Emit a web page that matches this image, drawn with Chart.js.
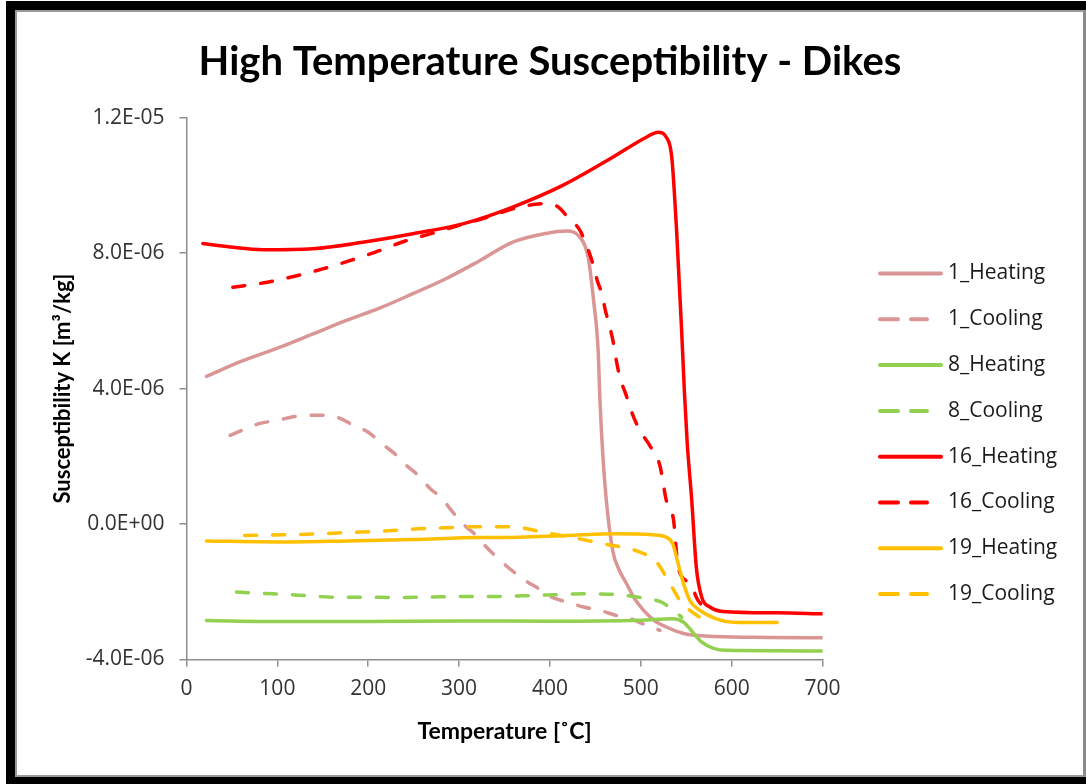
<!DOCTYPE html>
<html>
<head>
<meta charset="utf-8">
<script src="https://cdn.jsdelivr.net/npm/chart.js@4/dist/chart.umd.min.js"></script>
<style>
  html, body { margin: 0; padding: 0; background: #fff; }
  #wrap { position: relative; width: 1086px; height: 784px; overflow: hidden; }
  #susChart { position: absolute; left: 0; top: 0; }
  #frame {
    position: absolute; left: 6px; top: 1px; width: 1080px; height: 783px;
    box-sizing: border-box; pointer-events: none;
    border-left: 9px solid #000; border-top: 9px solid #000; border-bottom: 7px solid #000;
  }
  #frame::after {
    content: ""; position: absolute; left: 0; top: 0; right: 0; bottom: 0;
    border-left: 2px solid #9a9a9a; border-top: 2px solid #9a9a9a;
    border-bottom: 2px solid #9a9a9a; border-right: 3px solid #8a8a8a;
  }
</style>
</head>
<body>
<div id="wrap">
  <canvas id="susChart" width="1086" height="784"></canvas>
  <div id="frame"></div>
</div>
<script>
// temperatures in °C, susceptibility in m3/kg
const heat1T = [22, 60, 103, 140, 176, 213, 249, 286, 323, 359, 396, 418, 433, 442, 448, 453, 455, 458, 462, 469, 476, 484, 493, 503, 515, 528, 547, 583, 640, 700];
const heat1K = [4.36e-6, 4.80e-6, 5.22e-6, 5.62e-6, 6.01e-6, 6.38e-6, 6.80e-6, 7.25e-6, 7.78e-6, 8.32e-6, 8.58e-6, 8.65e-6, 8.47e-6, 7.88e-6, 6.60e-6, 5.12e-6, 3.65e-6, 2.10e-6, 0.70e-6, -0.78e-6, -1.35e-6, -1.75e-6, -2.20e-6, -2.55e-6, -2.85e-6, -3.04e-6, -3.23e-6, -3.32e-6, -3.35e-6, -3.36e-6];

const cool1T = [48, 81, 100, 116, 133, 150, 169, 183, 200, 215, 229, 242, 255, 268, 281, 293, 306, 321, 330, 345, 358, 373, 387, 402, 420, 437, 455, 473, 488, 506, 521];
const cool1K = [2.62e-6, 2.97e-6, 3.06e-6, 3.16e-6, 3.21e-6, 3.21e-6, 3.12e-6, 2.92e-6, 2.71e-6, 2.37e-6, 2.08e-6, 1.73e-6, 1.44e-6, 1.05e-6, 0.76e-6, 0.35e-6, -0.04e-6, -0.39e-6, -0.68e-6, -1.07e-6, -1.37e-6, -1.67e-6, -1.90e-6, -2.16e-6, -2.31e-6, -2.45e-6, -2.55e-6, -2.70e-6, -2.79e-6, -2.99e-6, -3.14e-6];

const heat8T = [22, 100, 200, 300, 400, 500, 535, 547, 557, 567, 580, 594, 650, 700];
const heat8K = [-2.85e-6, -2.88e-6, -2.88e-6, -2.86e-6, -2.87e-6, -2.84e-6, -2.80e-6, -2.90e-6, -3.19e-6, -3.49e-6, -3.67e-6, -3.73e-6, -3.74e-6, -3.75e-6];

const cool8T = [55, 95, 129, 163, 196, 232, 266, 300, 334, 369, 404, 438, 471, 504, 522, 536, 545];
const cool8K = [-2.01e-6, -2.06e-6, -2.11e-6, -2.16e-6, -2.16e-6, -2.17e-6, -2.16e-6, -2.14e-6, -2.14e-6, -2.12e-6, -2.09e-6, -2.06e-6, -2.08e-6, -2.19e-6, -2.30e-6, -2.55e-6, -2.75e-6];

const heat16T = [18, 48, 84, 139, 194, 249, 305, 359, 414, 469, 506, 519, 528, 534, 539.5, 545, 548, 551, 556, 561, 567, 576, 590, 650, 700];
const heat16K = [8.28e-6, 8.18e-6, 8.10e-6, 8.13e-6, 8.32e-6, 8.57e-6, 8.87e-6, 9.36e-6, 10.00e-6, 10.83e-6, 11.42e-6, 11.57e-6, 11.42e-6, 10.83e-6, 8.58e-6, 5.63e-6, 3.86e-6, 2.40e-6, 0.70e-6, -1.27e-6, -2.16e-6, -2.45e-6, -2.58e-6, -2.62e-6, -2.65e-6];

const cool16T = [51, 89, 118, 148, 178, 208, 240, 270, 300, 330, 367, 394, 408, 420, 433, 441, 447, 452, 457, 461, 466, 470, 473, 477, 484, 490, 499, 510, 521, 528, 536, 541, 554, 563, 570, 575];
const cool16K = [6.99e-6, 7.14e-6, 7.31e-6, 7.52e-6, 7.76e-6, 8.03e-6, 8.35e-6, 8.58e-6, 8.82e-6, 9.05e-6, 9.36e-6, 9.46e-6, 9.38e-6, 9.05e-6, 8.67e-6, 8.17e-6, 7.70e-6, 7.19e-6, 6.80e-6, 6.30e-6, 5.80e-6, 5.32e-6, 4.83e-6, 4.33e-6, 3.79e-6, 3.30e-6, 2.76e-6, 2.31e-6, 1.72e-6, 0.70e-6, 0.11e-6, -1.28e-6, -1.75e-6, -2.26e-6, -2.45e-6, -2.50e-6];

const heat19T = [22, 103, 176, 249, 323, 345, 418, 473, 513, 528, 535, 541, 547, 554, 565, 583, 602, 650];
const heat19K = [-0.50e-6, -0.53e-6, -0.50e-6, -0.46e-6, -0.40e-6, -0.40e-6, -0.34e-6, -0.29e-6, -0.32e-6, -0.39e-6, -0.58e-6, -1.17e-6, -1.76e-6, -2.26e-6, -2.55e-6, -2.80e-6, -2.90e-6, -2.91e-6];

const cool19T = [64, 108, 144, 179, 214, 250, 285, 318, 345, 365, 392, 427, 462, 496, 517, 528, 535, 545, 554, 565, 580];
const cool19K = [-0.34e-6, -0.32e-6, -0.29e-6, -0.25e-6, -0.21e-6, -0.15e-6, -0.11e-6, -0.08e-6, -0.08e-6, -0.10e-6, -0.24e-6, -0.41e-6, -0.60e-6, -0.80e-6, -1.12e-6, -1.57e-6, -1.90e-6, -2.34e-6, -2.55e-6, -2.75e-6, -2.85e-6];

const seriesNames = ["1_Heating", "1_Cooling", "8_Heating", "8_Cooling", "16_Heating", "16_Cooling", "19_Heating", "19_Cooling"];
const seriesColors = ["#d99694", "#d99694", "#92d050", "#92d050", "#ff0000", "#ff0000", "#ffc000", "#ffc000"];
const seriesT = [heat1T, cool1T, heat8T, cool8T, heat16T, cool16T, heat19T, cool19T];
const seriesK = [heat1K, cool1K, heat8K, cool8K, heat16K, cool16K, heat19K, cool19K];

const xTicks = [0, 100, 200, 300, 400, 500, 600, 700];
const yTicks = [-4e-6, 0, 4e-6, 8e-6, 1.2e-5];

const chartTitle = "High Temperature Susceptibility - Dikes";

const FONT = "'Open Sans', sans-serif";
const BOLD_FONT = "Lato, 'Open Sans', sans-serif";
const AXIS_GREY = "#8e8e8e";

// Excel style scientific label, e.g. 8.0E-06
function sciLabel(v) {
  if (Math.abs(v) < 1e-12) return "0.0E+00";
  return v.toExponential(1).toUpperCase().replace(/E([+-])(\d)$/, "E$10$2");
}

const datasets = seriesNames.map((name, i) => ({
  label: name,
  data: seriesT[i].map((t, j) => ({ x: t, y: seriesK[i][j] })),
  borderColor: seriesColors[i],
  backgroundColor: seriesColors[i],
  borderWidth: 3.5,
  borderDash: name.endsWith("Cooling") ? [12, 16] : [],
  borderCapStyle: "round",
  borderJoinStyle: "round",
  pointRadius: 0,
  cubicInterpolationMode: "monotone",
  order: seriesNames.length - i
}));

// title centred on the whole canvas, legend rows to the right of the plot
const sideLegend = {
  id: "sideLegend",
  afterDraw(chart) {
    const ctx = chart.ctx;
    ctx.save();
    ctx.fillStyle = "#000";
    ctx.font = "bold 40px " + BOLD_FONT;
    ctx.textAlign = "center";
    ctx.textBaseline = "middle";
    ctx.fillText(chartTitle, 550, 62);
    ctx.restore();

    chart.data.datasets.forEach((ds, i) => {
      const y = 273.5 + i * 45.8;
      ctx.save();
      ctx.strokeStyle = ds.borderColor;
      ctx.lineWidth = 4;
      ctx.lineCap = "round";
      ctx.beginPath();
      if (ds.borderDash.length) {
        ctx.setLineDash([18, 13]);
        ctx.moveTo(880, y);
        ctx.lineTo(927, y);
      } else {
        ctx.moveTo(880, y);
        ctx.lineTo(941, y);
      }
      ctx.stroke();
      ctx.setLineDash([]);
      ctx.fillStyle = "#1a1a1a";
      ctx.font = "21px " + FONT;
      ctx.textBaseline = "middle";
      ctx.fillText(ds.label, 948, y);
      ctx.restore();
    });
  }
};

new Chart(document.getElementById("susChart"), {
  type: "line",
  data: { datasets },
  plugins: [sideLegend],
  options: {
    responsive: false,
    animation: false,
    devicePixelRatio: 1,
    layout: { padding: { left: 0, top: 117.6, right: 263.4, bottom: 0 } },
    plugins: {
      legend: { display: false },
      tooltip: { enabled: false },
      title: { display: false }
    },
    scales: {
      x: {
        type: "linear",
        min: 0,
        max: 700,
        afterFit(scale) { scale.height = 124.5; },
        afterBuildTicks(scale) { scale.ticks = xTicks.map(v => ({ value: v })); },
        grid: { drawOnChartArea: false, drawTicks: true, tickLength: 7, color: AXIS_GREY, lineWidth: 1.5 },
        border: { color: AXIS_GREY, width: 1.5 },
        ticks: { color: "#333", padding: 10, font: { family: FONT, size: 21 } },
        title: {
          display: true,
          text: "Temperature [˚C]",
          color: "#000",
          font: { family: BOLD_FONT, size: 23, weight: "bold", lineHeight: 1.2 },
          padding: { top: 0, bottom: 38.2 }
        }
      },
      y: {
        type: "linear",
        min: -4e-6,
        max: 1.2e-5,
        afterFit(scale) { scale.width = 186.5; },
        afterBuildTicks(scale) { scale.ticks = yTicks.map(v => ({ value: v })); },
        grid: { drawOnChartArea: false, drawTicks: true, tickLength: 7, color: AXIS_GREY, lineWidth: 1.5 },
        border: { color: AXIS_GREY, width: 1.5 },
        ticks: { color: "#333", padding: 15, font: { family: FONT, size: 21 }, callback: v => sciLabel(v) },
        title: {
          display: true,
          text: "Susceptibility K [m³/kg]",
          color: "#000",
          font: { family: BOLD_FONT, size: 22, weight: "bold", lineHeight: 1.2 },
          padding: { top: 49.8, bottom: 0 }
        }
      }
    }
  }
});
</script>
</body>
</html>
